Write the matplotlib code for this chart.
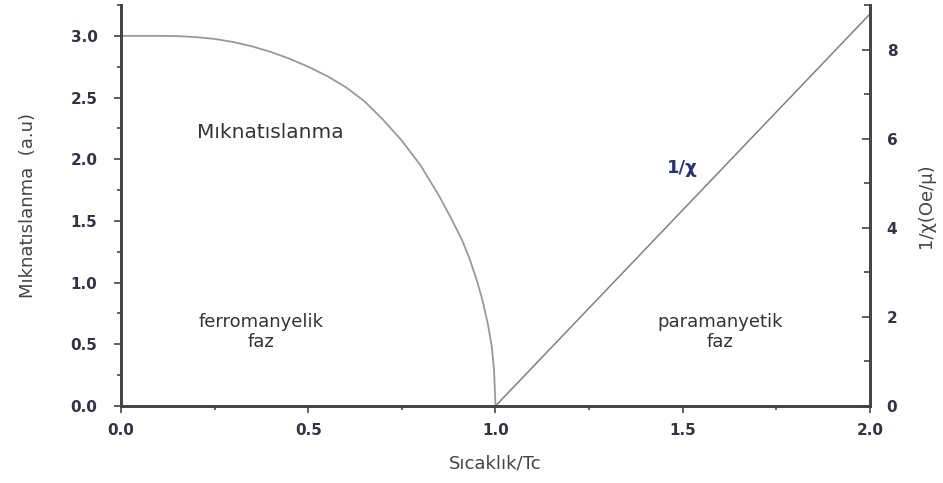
import matplotlib.pyplot as plt
from matplotlib.ticker import MultipleLocator

plt.rcParams['font.family'] = ['DejaVu Sans']

# magnetization curve (left axis)
t_mag = [0.0, 0.1, 0.15, 0.2, 0.25, 0.3, 0.35, 0.4, 0.45, 0.5, 0.55, 0.6,
         0.65, 0.7, 0.75, 0.8, 0.85, 0.88, 0.91, 0.93, 0.95, 0.965, 0.98,
         0.99, 0.996, 1.0]
m_vals = [3.0, 3.0, 2.998, 2.99, 2.975, 2.95, 2.915, 2.87, 2.815, 2.75, 2.675,
          2.585, 2.47, 2.32, 2.15, 1.95, 1.70, 1.53, 1.35, 1.20, 1.02, 0.86,
          0.66, 0.48, 0.30, 0.0]

# inverse susceptibility (right axis)
t_chi = [1.0, 2.0]
inv_chi = [0.0, 8.8]

fig = plt.figure(figsize=(9.43, 4.83), dpi=100)
ax = fig.add_axes([0.1283, 0.1594, 0.7943, 0.8302])
ax2 = ax.twinx()

ax.plot(t_mag, m_vals, color='#999999', lw=1.3)
ax2.plot(t_chi, inv_chi, color='#808080', lw=1.1)

ax.set_xlim(0, 2.0)
ax.set_ylim(0, 3.25)
ax2.set_ylim(0, 9)

spine_c = '#444444'
for a in (ax, ax2):
    a.spines['top'].set_visible(False)
    for s in ('left', 'right', 'bottom'):
        a.spines[s].set_linewidth(2)
        a.spines[s].set_color(spine_c)

ax.xaxis.set_major_locator(MultipleLocator(0.5))
ax.xaxis.set_minor_locator(MultipleLocator(0.25))
ax.yaxis.set_major_locator(MultipleLocator(0.5))
ax.yaxis.set_minor_locator(MultipleLocator(0.25))
ax2.yaxis.set_major_locator(MultipleLocator(2))
ax2.yaxis.set_minor_locator(MultipleLocator(1))

ax.xaxis.set_major_formatter(lambda v, p: f"{v:.1f}")
ax.yaxis.set_major_formatter(lambda v, p: f"{v:.1f}")

ax.tick_params(axis='both', which='major', length=5, width=1.2, color=spine_c,
               labelsize=11, labelcolor='#333344', direction='out')
ax.tick_params(axis='y', which='major', pad=12)
ax.tick_params(axis='x', which='major', pad=7)
ax.tick_params(axis='both', which='minor', length=3, width=1.2, color=spine_c,
               direction='out')
ax2.tick_params(axis='y', which='major', length=6, width=1.2, color=spine_c,
                labelsize=11, labelcolor='#333344', direction='in', pad=12)
ax2.tick_params(axis='y', which='minor', length=4, width=1.2, color=spine_c,
                direction='in')
for lbl in ax.get_xticklabels() + ax.get_yticklabels() + ax2.get_yticklabels():
    lbl.set_fontweight('bold')

ax.set_xlabel("Sıcaklık/Tc", fontsize=13, color='#444444', labelpad=12)
ax.set_ylabel("Mıknatıslanma  (a.u)", fontsize=13, color='#444444', labelpad=24)
ax2.set_ylabel("1/χ(Oe/μ)", fontsize=13, color='#444444', labelpad=14)

ax.text(0.40, 2.22, "Mıknatıslanma", fontsize=14.5, color='#333333',
        ha='center', va='center')
ax.text(0.375, 0.60, "ferromanyelik\nfaz", fontsize=13, color='#333333',
        ha='center', va='center', linespacing=1.15)
ax.text(1.60, 0.60, "paramanyetik\nfaz", fontsize=13, color='#333333',
        ha='center', va='center', linespacing=1.15)
ax.text(1.50, 1.93, "1/χ", fontsize=13, color='#2a3570', fontweight='bold',
        ha='center', va='center')

fig.savefig("out.png", dpi=100)
